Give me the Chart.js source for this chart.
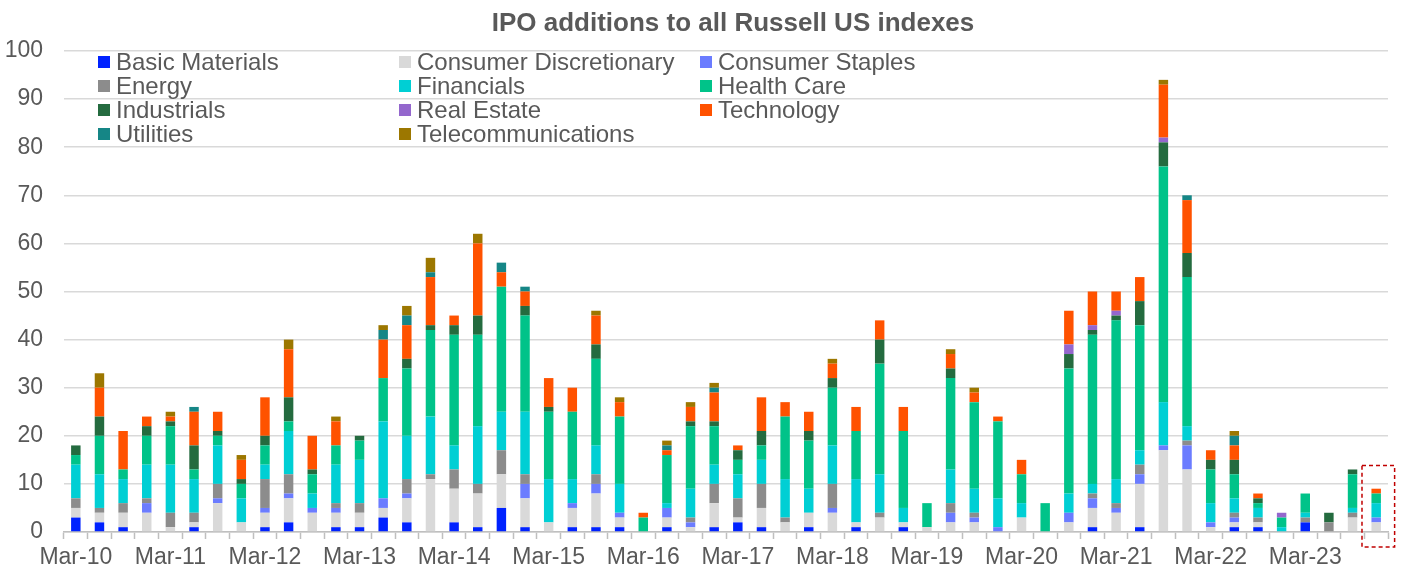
<!DOCTYPE html>
<html>
<head>
<meta charset="utf-8">
<script src="https://cdn.jsdelivr.net/npm/chart.js@4.4.1/dist/chart.umd.min.js"></script>
<style>
  html, body { margin: 0; padding: 0; background: #ffffff; }
  #wrap { position: relative; width: 1407px; height: 572px; overflow: hidden; }
  #chart { position: absolute; left: 0; top: 0; }
  #title { position: absolute; left: 0; width: 1466px; top: 7px; text-align: center;
           font: bold 26px "Liberation Sans", Arial, sans-serif; color: #595959; }
  #legend { position: absolute; left: 98px; top: 50px; display: grid;
            grid-template-columns: 301px 301px 301px; grid-auto-rows: 24px; }
  .li { display: flex; align-items: center; font: 24px "Liberation Sans", Arial, sans-serif;
        color: #595959; white-space: nowrap; }
  .sw { width: 12px; height: 12px; margin-right: 6px; flex: none; }
</style>
</head>
<body>
<div id="wrap">
  <canvas id="chart" width="1407" height="572"></canvas>
  <div id="title">IPO additions to all Russell US indexes</div>
  <div id="legend"></div>
</div>
<script>
// ---- Data ----
const quarters = [];
const years = ['10','11','12','13','14','15','16','17','18','19','20','21','22','23'];
const months = ['Mar','Jun','Sep','Dec'];
years.forEach(y => months.forEach(m => quarters.push(m + '-' + y)));

const basicMaterials = [3,2,1,0,0,1,0,0,1,2, 0,1,1,3,2,0,2,1,5,1, 0,1,1,1,0,1,0,1,2,1, 0,1,0,1,0,1,0,0,0,0, 0,0,0,1,0,1,0,0,0,1, 1,0,2,0,0,0];
const consumerDiscretionary = [2,2,3,4,1,1,6,2,3,5, 4,3,3,2,5,11,7,7,7,6, 2,4,7,2,0,2,1,5,1,4, 2,3,4,1,3,1,1,2,2,0, 3,0,2,4,4,9,17,13,1,1, 1,0,0,0,3,2];
const consumerStaples = [0,0,0,2,0,0,1,0,1,1, 1,1,0,2,1,0,0,0,0,3, 0,1,2,1,0,2,1,0,0,0, 0,0,1,0,0,0,0,2,1,1, 0,0,2,2,1,2,1,5,1,1, 0,0,0,0,0,1];
const energy = [2,1,2,1,3,2,3,0,6,4, 0,1,2,0,3,1,4,2,5,2, 0,0,2,0,0,0,1,4,4,5, 1,0,5,0,1,0,0,2,1,0, 0,0,0,1,1,2,0,1,0,1, 1,0,1,2,1,0];
const financials = [7,7,5,7,10,7,8,5,3,9, 3,8,9,16,9,12,5,12,8,13, 9,5,6,6,0,1,6,4,5,5, 8,5,8,9,8,3,0,7,5,6, 3,0,4,2,5,3,9,3,4,3, 2,1,1,0,1,3];
const healthCare = [2,8,2,6,8,2,2,3,4,2, 4,4,4,9,14,18,23,19,26,20, 14,14,18,14,3,10,13,8,3,3, 13,10,12,10,23,16,5,19,18,16, 6,6,26,31,33,26,49,31,7,5, 1,2,4,0,7,2];
const industrials = [2,4,0,2,1,5,1,1,2,5, 1,0,1,0,2,1,2,4,0,2, 1,0,3,0,0,0,1,1,2,3, 0,2,2,0,5,0,0,2,0,0, 0,0,3,1,1,5,5,5,2,3, 1,0,0,2,1,0];
const realEstate = [0,0,0,0,0,0,0,0,0,0, 0,0,0,0,0,0,0,0,0,0, 0,0,0,0,0,0,0,0,0,0, 0,0,0,0,0,0,0,0,0,0, 0,0,2,1,1,0,1,0,0,0, 0,1,0,0,0,0];
const technology = [0,6,8,2,1,7,4,4,8,10, 7,5,0,8,7,10,2,15,3,3, 6,5,6,3,1,1,3,6,1,7, 3,4,3,5,4,5,0,3,2,1, 3,0,7,7,4,5,11,11,2,3, 1,0,0,0,0,1];
const utilities = [0,0,0,0,0,1,0,0,0,0, 0,0,0,2,2,1,0,0,2,1, 0,0,0,0,0,1,0,1,0,0, 0,0,0,0,0,0,0,0,0,0, 0,0,0,0,0,0,0,1,0,2, 0,0,0,0,0,0];
const telecommunications = [0,3,0,0,1,0,0,1,0,2, 0,1,0,1,2,3,0,2,0,0, 0,0,1,1,0,1,1,1,0,0, 0,0,1,0,0,0,0,1,1,0, 0,0,0,0,0,0,1,0,0,1, 0,0,0,0,0,0];

const yTicks = [0,10,20,30,40,50,60,70,80,90,100];

const seriesNames = ['Basic Materials','Consumer Discretionary','Consumer Staples','Energy','Financials',
  'Health Care','Industrials','Real Estate','Technology','Utilities','Telecommunications'];
const seriesData = [basicMaterials, consumerDiscretionary, consumerStaples, energy, financials,
  healthCare, industrials, realEstate, technology, utilities, telecommunications];
const seriesColors = ['#0022FF','#D9D9D9','#6B7CFF','#8C8C8C','#00CFD4','#00C389',
  '#246B3F','#9467CD','#FF5200','#158686','#9C7700'];

const datasets = seriesNames.map((n, i) => ({
  label: n, data: seriesData[i], backgroundColor: seriesColors[i],
  borderWidth: 0, barPercentage: 0.4, categoryPercentage: 1.0
}));

// HTML legend (row-major, 3 columns)
const lg = document.getElementById('legend');
seriesNames.forEach((n, i) => {
  const d = document.createElement('div'); d.className = 'li';
  const s = document.createElement('span'); s.className = 'sw'; s.style.background = seriesColors[i];
  const t = document.createElement('span'); t.textContent = n;
  d.appendChild(s); d.appendChild(t); lg.appendChild(d);
});

// dashed highlight box around latest bar
const highlightPlugin = {
  id: 'highlight',
  afterDraw(chart) {
    const xs = chart.scales.x, ys = chart.scales.y, ctx = chart.ctx;
    const last = quarters.length - 1;
    const cw = xs.getPixelForValue(1) - xs.getPixelForValue(0);
    const cx = xs.getPixelForValue(last);
    const x0 = cx - cw * 0.6, x1 = cx + cw * 0.78;
    const y0 = ys.getPixelForValue(13.8), y1 = ys.getPixelForValue(0) + 15;
    ctx.save();
    ctx.strokeStyle = '#C00000'; ctx.lineWidth = 1.5; ctx.setLineDash([4, 3]);
    ctx.strokeRect(x0, y0, x1 - x0, y1 - y0);
    ctx.restore();
  }
};

Chart.defaults.font.family = '"Liberation Sans", Arial, sans-serif';
Chart.defaults.color = '#595959';

new Chart(document.getElementById('chart'), {
  type: 'bar',
  data: { labels: quarters, datasets },
  plugins: [highlightPlugin],
  options: {
    responsive: false, animation: false, devicePixelRatio: 1,
    layout: { padding: { top: 51, right: 19, bottom: 0, left: 0 } },
    plugins: { legend: { display: false }, title: { display: false }, tooltip: { enabled: false } },
    scales: {
      x: {
        stacked: true,
        afterFit: (s) => { s.height = 40; },
        grid: { display: true, offset: true, drawOnChartArea: false, drawTicks: true,
                tickLength: 7, tickColor: '#BFBFBF', tickWidth: 1.5 },
        border: { display: true, color: '#BFBFBF', width: 1.5 },
        ticks: { autoSkip: false, maxRotation: 0, minRotation: 0, padding: 5,
                 font: { size: 23 }, color: '#595959',
                 callback: (v, i) => (i % 4 === 0 ? quarters[i] : '') }
      },
      y: {
        stacked: true, min: 0, max: 100,
        afterBuildTicks: (s) => { s.ticks = yTicks.map(v => ({ value: v })); },
        afterFit: (s) => { s.width = 64; },
        grid: { color: '#D9D9D9', lineWidth: 1.5, drawTicks: false },
        border: { display: false },
        ticks: { padding: 21, font: { size: 23 }, color: '#595959' }
      }
    }
  }
});
</script>
</body>
</html>
